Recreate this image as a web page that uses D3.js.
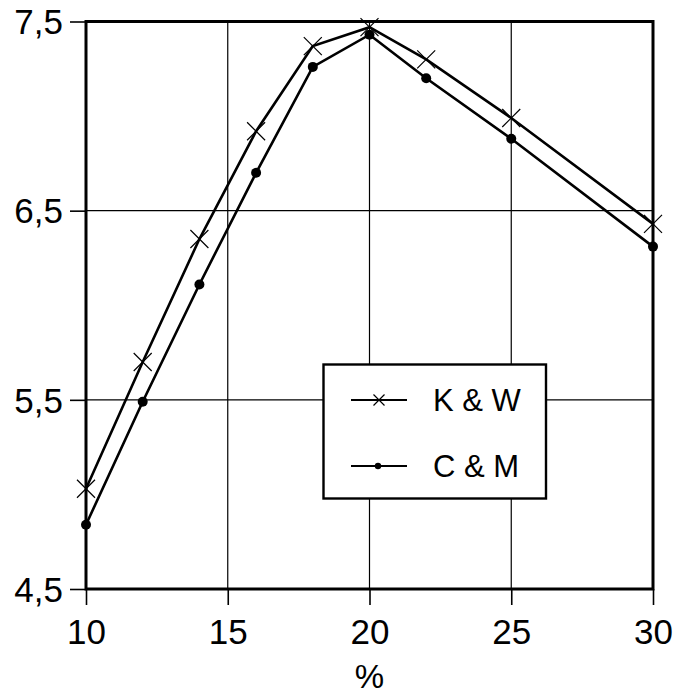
<!DOCTYPE html>
<html>
<head>
<meta charset="utf-8">
<script src="https://cdn.jsdelivr.net/npm/d3@7"></script>
<style>
  html, body { margin: 0; padding: 0; background: #fff; }
  svg { display: block; font-family: "Liberation Sans", Arial, sans-serif; }
</style>
</head>
<body>
<svg id="chart" width="674" height="695"></svg>
<script>
// Percent values on the horizontal axis
const percents = [10, 12, 14, 16, 18, 20, 22, 25, 30];
// Series values
const kwValues = [5.03, 5.70, 6.35, 6.92, 7.37, 7.47, 7.30, 6.99, 6.43];
const cmValues = [4.84, 5.49, 6.11, 6.70, 7.26, 7.43, 7.20, 6.88, 6.31];
const seriesNames = ["K & W", "C & M"];
// Tick labels
const xTicks = [10, 15, 20, 25, 30];
const yTicks = [4.5, 5.5, 6.5, 7.5];
const xTitle = "%";

const svg = d3.select("#chart");
const plotLeft = 86, plotRight = 653, plotTop = 21.5, plotBottom = 589;

const x = d3.scaleLinear().domain([10, 30]).range([plotLeft, plotRight]);
const y = d3.scaleLinear().domain([4.5, 7.5]).range([plotBottom, plotTop]);
const fmt = v => d3.format(".1f")(v).replace(".", ",");

// Grid lines
const grid = svg.append("g").attr("stroke", "#000").attr("stroke-width", 1.2);
grid.selectAll("line.gx").data(xTicks.slice(1, -1)).join("line")
  .attr("x1", d => x(d)).attr("x2", d => x(d)).attr("y1", plotTop).attr("y2", plotBottom);
grid.selectAll("line.gy").data(yTicks.slice(1, -1)).join("line")
  .attr("x1", plotLeft).attr("x2", plotRight).attr("y1", d => y(d)).attr("y2", d => y(d));

// Axes with outward ticks
const xAxis = svg.append("g").attr("transform", `translate(0,${plotBottom})`)
  .call(d3.axisBottom(x).tickValues(xTicks).tickSize(16).tickPadding(14).tickFormat(d3.format("d")));
const yAxis = svg.append("g").attr("transform", `translate(${plotLeft},0)`)
  .call(d3.axisLeft(y).tickValues(yTicks).tickSize(16).tickPadding(7).tickFormat(fmt));
[xAxis, yAxis].forEach(a => {
  a.select(".domain").remove();
  a.selectAll(".tick line").attr("stroke", "#000").attr("stroke-width", 1.6);
  a.selectAll(".tick text").attr("fill", "#000").attr("font-size", 35)
    .attr("font-family", "'Liberation Sans', Arial, sans-serif");
});
xAxis.selectAll(".tick text").attr("dy", "0.71em");
yAxis.selectAll(".tick text").attr("dy", "0.35em");

// Plot frame
svg.append("rect").attr("x", plotLeft).attr("y", plotTop)
  .attr("width", plotRight - plotLeft).attr("height", plotBottom - plotTop)
  .attr("fill", "none").attr("stroke", "#000").attr("stroke-width", 3);

// Axis title
svg.append("text").attr("x", x(20)).attr("y", 688).attr("text-anchor", "middle")
  .attr("font-size", 33).attr("fill", "#000").text(xTitle);

const line = d3.line().x((d, i) => x(percents[i])).y(d => y(d));

// Series lines
svg.append("path").datum(kwValues).attr("d", line)
  .attr("fill", "none").attr("stroke", "#000").attr("stroke-width", 2.6).attr("stroke-linejoin", "miter");
svg.append("path").datum(cmValues).attr("d", line)
  .attr("fill", "none").attr("stroke", "#000").attr("stroke-width", 2.6).attr("stroke-linejoin", "miter");

// Cross markers
const cross = s => `M${-s},${-s}L${s},${s}M${-s},${s}L${s},${-s}`;
svg.append("g").selectAll("path").data(kwValues).join("path")
  .attr("transform", (d, i) => `translate(${x(percents[i])},${y(d)})`)
  .attr("d", cross(9)).attr("stroke", "#000").attr("stroke-width", 1.2).attr("fill", "none");

// Dot markers
svg.append("g").selectAll("circle").data(cmValues).join("circle")
  .attr("cx", (d, i) => x(percents[i])).attr("cy", d => y(d)).attr("r", 5).attr("fill", "#000");

// Legend
const lg = svg.append("g");
lg.append("rect").attr("x", 323.5).attr("y", 364.5).attr("width", 222.5).attr("height", 134)
  .attr("fill", "#fff").attr("stroke", "#000").attr("stroke-width", 2.4);
const rows = [400, 466];
rows.forEach((ry, i) => {
  lg.append("line").attr("x1", 351).attr("x2", 407).attr("y1", ry).attr("y2", ry)
    .attr("stroke", "#000").attr("stroke-width", 2.2);
  if (i === 0) {
    lg.append("path").attr("transform", `translate(379,${ry})`).attr("d", cross(5.5))
      .attr("stroke", "#000").attr("stroke-width", 1.2).attr("fill", "none");
  } else {
    lg.append("circle").attr("cx", 378).attr("cy", ry).attr("r", 3.2).attr("fill", "#000");
  }
  lg.append("text").attr("x", 433).attr("y", ry).attr("dy", "0.36em")
    .attr("font-size", 31).attr("fill", "#000").text(seriesNames[i]);
});
</script>
</body>
</html>
